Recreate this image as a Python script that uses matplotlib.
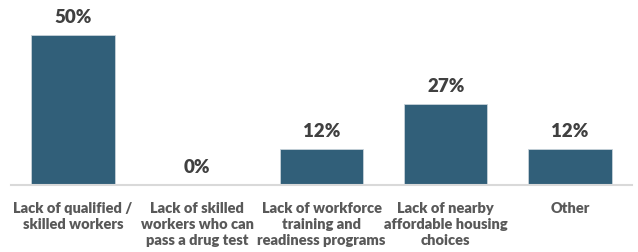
import matplotlib
matplotlib.use("Agg")
import matplotlib.pyplot as plt

categories = ["Lack of qualified /\nskilled workers",
              "Lack of skilled\nworkers who can\npass a drug test",
              "Lack of workforce\ntraining and\nreadiness programs",
              "Lack of nearby\naffordable housing\nchoices",
              "Other"]
values = [50, 0, 12, 27, 12]

bar_color = "#315f79"
plt.rcParams['font.family'] = ['Lato', 'DejaVu Sans']

fig = plt.figure(figsize=(6.38, 2.52), dpi=100)
ax = fig.add_axes([11/638, 67/252, 621/638, 165/252])

x = range(len(values))
bars = ax.bar(x, values, width=0.67, color=bar_color, edgecolor="#c8d3da", linewidth=0.6)
for xi, v in zip(x, values):
    ax.text(xi, v + 3.0, f"{v}%", ha="center", va="bottom", fontsize=13.5,
            fontweight="heavy", color="#404040")

ax.set_xlim(-0.5, 4.5)
ax.set_ylim(0, 55)
ax.set_xticks(list(x))
ax.set_xticklabels(categories, fontsize=10.5, fontweight="heavy", color="#595959", linespacing=1.3)
ax.tick_params(axis="x", length=0, pad=12)
ax.set_yticks([])
for s in ["top", "left", "right"]:
    ax.spines[s].set_visible(False)
ax.spines["bottom"].set_color("#d9d9d9")
ax.spines["bottom"].set_linewidth(1.5)

fig.savefig("out.png", dpi=100)
